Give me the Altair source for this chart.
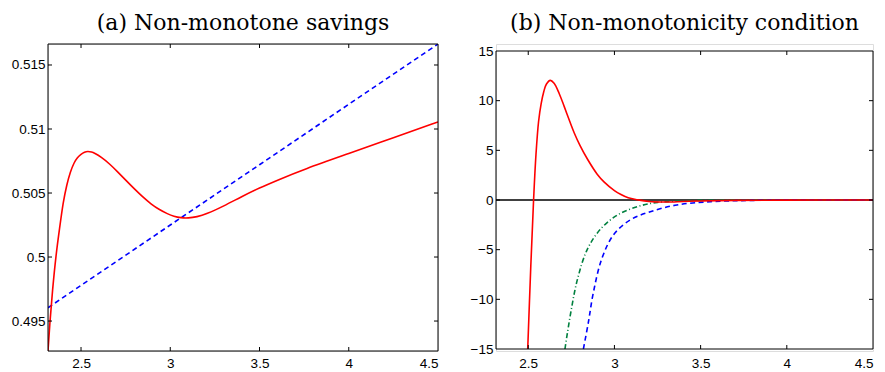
import altair as alt
import pandas as pd

# ---------------- data: panel (a) ----------------
xa_red = [2.315, 2.325, 2.34, 2.36, 2.38, 2.40, 2.42, 2.44, 2.46, 2.48, 2.50, 2.52, 2.537,
          2.56, 2.575, 2.612, 2.66, 2.705, 2.75, 2.798, 2.845, 2.892, 2.94, 2.985, 3.02,
          3.06, 3.1, 3.15, 3.2, 3.3, 3.4, 3.5, 3.6, 3.75, 4.0, 4.25, 4.5]
ya_red = [0.49266, 0.49480, 0.49740, 0.50020, 0.50225, 0.50430, 0.50565, 0.50665, 0.50735,
          0.50778, 0.50803, 0.50820, 0.50826, 0.50821, 0.50812, 0.50782, 0.50728, 0.50666,
          0.50601, 0.50533, 0.50470, 0.50414, 0.50369, 0.50337, 0.50318, 0.50306, 0.50304,
          0.50314, 0.50334, 0.50398, 0.50472, 0.50540, 0.50600, 0.50686, 0.50808, 0.50932,
          0.51055]
xa_blue = [2.315, 3.0, 3.5, 4.0, 4.5]
ya_blue = [0.49604, 0.50250, 0.50721, 0.51193, 0.51664]

# ---------------- data: panel (b) ----------------
xb_red = [2.497, 2.515, 2.531, 2.545, 2.56, 2.575, 2.59, 2.605, 2.628, 2.65, 2.68, 2.709,
          2.74, 2.767, 2.8, 2.844, 2.9, 2.941, 3.0, 3.038, 3.08, 3.134, 3.2, 3.3, 3.4,
          3.5, 3.7, 4.0, 4.5]
yb_red = [-15, -6.6, 0, 4.6, 7.9, 9.7, 10.9, 11.65, 12.04, 11.75, 10.7, 9.4,
          7.95, 6.75, 5.5, 4.1, 2.6, 1.8, 0.95, 0.55, 0.22, 0.02, -0.15, -0.2, -0.15,
          -0.1, -0.04, -0.01, 0]
xb_green = [2.713, 2.747, 2.786, 2.844, 2.921, 3.018, 3.134, 3.25, 3.4, 3.6, 4.0, 4.5]
yb_green = [-15, -11.3, -7.95, -4.92, -2.90, -1.51, -0.67, -0.24, -0.08, -0.02, 0, 0]
xb_blue = [2.82, 2.849, 2.878, 2.927, 2.995, 3.092, 3.208, 3.362, 3.555, 3.8, 4.2, 4.5]
yb_blue = [-15, -12.3, -9.3, -5.9, -3.5, -2.0, -1.18, -0.5, -0.17, -0.04, 0, 0]

xa_ticks = [2.5, 3, 3.5, 4, 4.5]
ya_ticks = [0.495, 0.5, 0.505, 0.51, 0.515]
xb_ticks = [2.5, 3, 3.5, 4, 4.5]
yb_ticks = [-15, -10, -5, 0, 5, 10, 15]

title_a = "(a) Non-monotone savings"
title_b = "(b) Non-monotonicity condition"

XA_DOM = [2.315, 4.5]
YA_DOM = [0.49266, 0.51664]
XB_DOM = [2.313, 4.5]
YB_DOM = [-15, 15]

H = 307                 # common group height
WA = 390
WB = 377
A_TOP, A_BOT = 0, 307   # plot frame of panel (a) inside its group
B_TOP, B_BOT = 7, 305   # plot frame of panel (b) inside its group

LABEL_FONT = "Liberation Sans"
TITLE_FONT = "DejaVu Serif"


def x_enc(dom, ticks, field="x"):
    return alt.X(f"{field}:Q", scale=alt.Scale(domain=dom, nice=False, zero=False),
                 axis=alt.Axis(values=ticks, format="~g", ticks=False, domain=False, grid=False,
                               labelFont=LABEL_FONT, labelFontSize=13.5, labelColor="black",
                               labelPadding=5, title=None))


def y_enc(dom, ticks, top, bot, field="y"):
    return alt.Y(f"{field}:Q", scale=alt.Scale(domain=dom, nice=False, zero=False, range=[bot, top]),
                 axis=alt.Axis(values=ticks, format="~g", ticks=False, domain=False, grid=False,
                               labelFont=LABEL_FONT, labelFontSize=13.5, labelColor="black",
                               labelPadding=3, title=None))


def line(xs, ys, color, dash, P, interp="catmull-rom"):
    df = pd.DataFrame({"x": xs, "y": ys})
    kw = dict(color=color, strokeWidth=1.6, clip=True, interpolate=interp)
    if dash:
        kw["strokeDash"] = dash
    return alt.Chart(df).mark_line(**kw).encode(
        x=x_enc(P["xd"], P["xt"]), y=y_enc(P["yd"], P["yt"], P["top"], P["bot"]))


def frame_and_ticks(P):
    dom_x, dom_y, tx, ty = P["xd"], P["yd"], P["xt"], P["yt"]
    top, bot, W = P["top"], P["bot"], P["w"]
    inner_x = [t for t in tx if dom_x[0] < t < dom_x[1]]
    inner_y = [t for t in ty if dom_y[0] < t < dom_y[1]]
    dx = pd.DataFrame({"x": inner_x})
    dy = pd.DataFrame({"y": inner_y})
    L = 4
    xe = x_enc(dom_x, tx)
    ye = y_enc(dom_y, ty, top, bot)
    layers = []
    bx = alt.Chart(dx).mark_rule(color="black", strokeWidth=1)
    layers.append(bx.encode(x=xe, y=alt.value(bot), y2=alt.value(bot - L)))
    layers.append(bx.encode(x=xe, y=alt.value(top), y2=alt.value(top + L)))
    by = alt.Chart(dy).mark_rule(color="black", strokeWidth=1)
    layers.append(by.encode(y=ye, x=alt.value(0), x2=alt.value(L)))
    layers.append(by.encode(y=ye, x=alt.value(W), x2=alt.value(W - L)))
    fr = alt.Chart(pd.DataFrame({"x": [dom_x[0]]})).mark_rect(
        filled=False, stroke="black", strokeWidth=1).encode(
        x=alt.value(0), x2=alt.value(W), y=alt.value(top), y2=alt.value(bot))
    layers.append(fr)
    return layers


def title(text):
    return alt.TitleParams(text, font=TITLE_FONT, fontSize=22, fontWeight="normal",
                           color="black", anchor="middle", offset=9)


PA = dict(xd=XA_DOM, yd=YA_DOM, xt=xa_ticks, yt=ya_ticks, top=A_TOP, bot=A_BOT, w=WA)
PB = dict(xd=XB_DOM, yd=YB_DOM, xt=xb_ticks, yt=yb_ticks, top=B_TOP, bot=B_BOT, w=WB)

panel_a = alt.layer(
    line(xa_blue, ya_blue, "#0000ff", [5, 3.5], PA, "linear"),
    line(xa_red, ya_red, "#ff0000", None, PA, "basis"),
    *frame_and_ticks(PA),
).properties(width=WA, height=H, title=title(title_a))

zero_line = alt.Chart(pd.DataFrame({"y": [0]})).mark_rule(
    color="black", strokeWidth=1.3).encode(y=y_enc(YB_DOM, yb_ticks, B_TOP, B_BOT))

panel_b = alt.layer(
    zero_line,
    line(xb_green, yb_green, "#00803f", [5, 2.5, 1, 2.5], PB),
    line(xb_blue, yb_blue, "#0000ff", [5, 3.5], PB),
    line(xb_red, yb_red, "#ff0000", None, PB),
    *frame_and_ticks(PB),
).properties(width=WB, height=H, title=title(title_b))

chart = alt.hconcat(panel_a, panel_b, spacing=30).properties(
    padding={"left": 2, "top": 3, "right": 0, "bottom": 0}
).configure_view(stroke=None).configure(background="white")

chart.save("out.html", embed_options={"renderer": "svg", "actions": False})
